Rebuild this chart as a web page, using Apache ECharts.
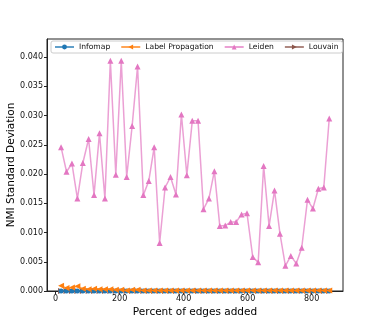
<!DOCTYPE html>
<html>
<head>
<meta charset="utf-8">
<script src="https://cdn.jsdelivr.net/npm/echarts@6/dist/echarts.min.js"></script>
<style>
html, body { margin: 0; padding: 0; background: #fff; }
#main { width: 382px; height: 327px; }
</style>
</head>
<body>
<div id="main"></div>
<script>
var dom = document.getElementById('main')
var chart = echarts.init(dom)

// percent of edges added (x)
var percents = [17, 34, 51, 68, 85, 103, 120, 137, 154, 171, 188, 205, 222, 239, 256, 274, 291, 308, 325, 342,
    359, 376, 393, 410, 427, 445, 462, 479, 496, 513, 530, 547, 564, 581, 598, 616, 633, 650, 667, 684,
    701, 718, 735, 752, 769, 787, 804, 821, 838, 855];

var infomap = [0, 0, 0, 0, 0, 0, 0, 0, 0, 0, 0, 0, 0, 0, 0, 0, 0, 0, 0, 0,
    0, 0, 0, 0, 0, 0, 0, 0, 0, 0, 0, 0, 0, 0, 0, 0, 0, 0, 0, 0,
    0, 0, 0, 0, 0, 0, 0, 0, 0, 0];

var labelProp = [0.0009, 0.0005, 0.0006, 0.0008, 0.0004, 0.0003, 0.0004, 0.0003, 0.0003, 0.0003,
    0.0002, 0.0002, 0.0001, 0.0002, 0.0002, 0.0001, 0.0001, 0.0001, 0.0001, 0.0001,
    0.0001, 0.0001, 0.0001, 0.0001, 0.0001, 0.0001, 0.0001, 0.0001, 0.0001, 0.0001,
    0.0001, 0.0001, 0.0001, 0.0001, 0.0001, 0.0001, 0.0001, 0.0001, 0.0001, 0.0001,
    0.0001, 0.0001, 0.0001, 0.0001, 0.0001, 0.0001, 0.0001, 0.0001, 0.0001, 0.0001];

var leiden = [0.0246, 0.0204, 0.0218, 0.0158, 0.0219, 0.0260, 0.0164, 0.0270, 0.0158, 0.0394,
    0.0199, 0.0394, 0.0195, 0.0282, 0.0384, 0.0164, 0.0188, 0.0246, 0.0082, 0.0177,
    0.0195, 0.0165, 0.0302, 0.0198, 0.0291, 0.0291, 0.0140, 0.0158, 0.0205, 0.0111,
    0.0112, 0.0118, 0.0118, 0.0131, 0.0133, 0.0058, 0.0049, 0.0214, 0.0111, 0.0172,
    0.0098, 0.0043, 0.0060, 0.0047, 0.0074, 0.0156, 0.0141, 0.0175, 0.0177, 0.0295];

var louvain = [0, 0, 0, 0, 0, 0, 0, 0, 0, 0, 0, 0, 0, 0, 0, 0, 0, 0, 0, 0,
    0, 0, 0, 0, 0, 0, 0, 0, 0, 0, 0, 0, 0, 0, 0, 0, 0, 0, 0, 0,
    0, 0, 0, 0, 0, 0, 0, 0, 0, 0];

var xTicks = [0, 200, 400, 600, 800];

function pairs(ys) {
    return ys.map((y, i) => [percents[i], y])
}

var font = 'DejaVu Sans'

function line(name, ys, color, symbol, rotate, size, z) {
    return {
        type: 'line',
        name: name,
        data: pairs(ys),
        symbol: symbol,
        symbolSize: size,
        symbolRotate: rotate,
        showSymbol: true,
        z: z,
        color: color,
        lineStyle: { color: color, width: 1.5, opacity: 0.7 },
        itemStyle: { color: color },
        animation: false
    }
}

var options = {
    backgroundColor: '#fff',
    textStyle: { fontFamily: font },
    grid: {
        left: 47, top: 39, width: 296, height: 252,
        outerBoundsMode: 'none',
        containLabel: false,
        show: true, borderColor: '#222', borderWidth: 1
    },
    legend: {
        left: 51, top: 41,
        padding: [2, 4, 2, 3],
        itemWidth: 19, itemHeight: 6, itemGap: 10,
        borderColor: '#ccc', borderWidth: 1, borderRadius: 2,
        textStyle: { fontFamily: font, fontSize: 7.6, color: '#111' },
        data: ['Infomap', 'Label Propagation', 'Leiden', 'Louvain']
    },
    xAxis: {
        type: 'value',
        min: -27, max: 898,
        name: 'Percent of edges added',
        nameLocation: 'middle',
        nameGap: 16,
        nameMoveOverlap: false,
        nameTextStyle: { fontFamily: font, fontSize: 10.5, color: '#000' },
        axisLine: { show: true, onZero: false, lineStyle: { color: '#222' } },
        axisTick: { show: true, length: 3, customValues: xTicks, lineStyle: { color: '#222' } },
        axisLabel: { customValues: xTicks, fontSize: 8, color: '#111', margin: 4, fontFamily: font },
        splitLine: { show: false }
    },
    yAxis: {
        type: 'value',
        min: 0, max: 0.0431, interval: 0.005,
        name: 'NMI Standard Deviation',
        nameLocation: 'middle',
        nameGap: 30,
        nameMoveOverlap: false,
        nameTextStyle: { fontFamily: font, fontSize: 10.5, color: '#000' },
        axisLine: { show: true, onZero: false, lineStyle: { color: '#222' } },
        axisTick: { show: true, length: 3, lineStyle: { color: '#222' } },
        axisLabel: {
            fontSize: 8, color: '#111', margin: 4, fontFamily: font,
            showMaxLabel: false,
            formatter: v => v.toFixed(3)
        },
        splitLine: { show: false }
    },
    series: [
        line('Infomap', infomap, '#1f77b4', 'circle', 0, 5, 3),
        line('Label Propagation', labelProp, '#ff7f0e', 'triangle', 90, 6, 4),
        line('Leiden', leiden, '#e377c2', 'triangle', 0, 6, 5),
        line('Louvain', louvain, '#8c564b', 'triangle', -90, 6, 2)
    ]
}

chart.setOption(options)
</script>
</body>
</html>
